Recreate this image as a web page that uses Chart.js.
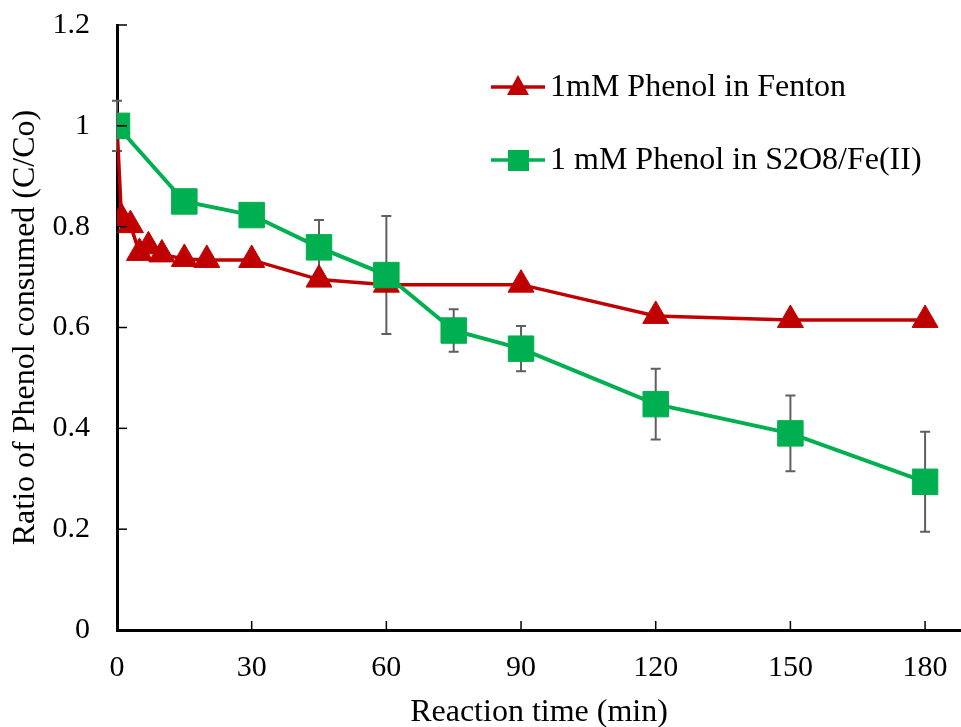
<!DOCTYPE html>
<html>
<head>
<meta charset="utf-8">
<script src="https://cdn.jsdelivr.net/npm/chart.js@4.4.1/dist/chart.umd.min.js"></script>
<style>
  html, body { margin: 0; padding: 0; background: #fff; }
  #wrap { width: 961px; height: 727px; }
</style>
</head>
<body>
<div id="wrap"><canvas id="chart" width="961" height="727"></canvas></div>
<script>
// --- data ---
const fentonTime = [0, 1, 3, 5, 7, 10, 15, 20, 30, 45, 60, 90, 120, 150, 180];
const fentonRatio = [1.0, 0.817, 0.803, 0.748, 0.761, 0.745, 0.736, 0.734, 0.734, 0.695, 0.685, 0.685, 0.623, 0.615, 0.615];

const persulfateTime = [0, 15, 30, 45, 60, 75, 90, 120, 150, 180];
const persulfateRatio = [1.0, 0.85, 0.823, 0.759, 0.704, 0.594, 0.558, 0.448, 0.39, 0.294];
const persulfateErr = [0.05, 0, 0, 0.054, 0.117, 0.042, 0.045, 0.07, 0.075, 0.099];

const xTickValues = [0, 30, 60, 90, 120, 150, 180];
const yTickValues = [0, 0.2, 0.4, 0.6, 0.8, 1, 1.2];
const yTickLabels = ['0', '0.2', '0.4', '0.6', '0.8', '1', '1.2'];

const seriesLabels = ['1mM Phenol in Fenton', '1 mM Phenol in S2O8/Fe(II)'];

const RED = '#C00000';
const GREEN = '#00B050';
const FONT = "'Liberation Serif', 'Times New Roman', serif";

// 内向きの目盛り線
const innerTicks = {
    id: 'innerTicks',
    afterDatasetsDraw(chart) {
        const { ctx, chartArea, scales } = chart;
        ctx.save();
        ctx.strokeStyle = '#000';
        ctx.lineWidth = 1.5;
        scales.x.ticks.forEach(t => {
            const px = scales.x.getPixelForValue(t.value);
            ctx.beginPath();
            ctx.moveTo(px, chartArea.bottom);
            ctx.lineTo(px, chartArea.bottom - 9);
            ctx.stroke();
        });
        scales.y.ticks.forEach(t => {
            const py = scales.y.getPixelForValue(t.value);
            ctx.beginPath();
            ctx.moveTo(chartArea.left, py);
            ctx.lineTo(chartArea.left + 10, py);
            ctx.stroke();
        });
        ctx.restore();
    }
};

// エラーバー (S2O8/Fe(II) のみ)
const errorBars = {
    id: 'errorBars',
    beforeDatasetsDraw(chart) {
        const { ctx, scales } = chart;
        ctx.save();
        ctx.strokeStyle = '#5f5f5f';
        ctx.lineWidth = 2;
        persulfateTime.forEach((t, i) => {
            const e = persulfateErr[i];
            if (!e) return;
            const px = scales.x.getPixelForValue(t);
            const top = scales.y.getPixelForValue(persulfateRatio[i] + e);
            const bot = scales.y.getPixelForValue(persulfateRatio[i] - e);
            ctx.beginPath();
            ctx.moveTo(px, top); ctx.lineTo(px, bot);
            ctx.moveTo(px - 5, top); ctx.lineTo(px + 5, top);
            ctx.moveTo(px - 5, bot); ctx.lineTo(px + 5, bot);
            ctx.stroke();
        });
        ctx.restore();
    }
};

// 凡例 (プロット領域の右上)
const insideLegend = {
    id: 'insideLegend',
    afterDraw(chart) {
        const { ctx } = chart;
        const rows = [
            { y: 87, color: RED, shape: 'tri' },
            { y: 160, color: GREEN, shape: 'sq' }
        ];
        ctx.save();
        rows.forEach((r, i) => {
            ctx.strokeStyle = r.color;
            ctx.lineWidth = 3.5;
            ctx.beginPath();
            ctx.moveTo(491, r.y);
            ctx.lineTo(545, r.y);
            ctx.stroke();
            ctx.fillStyle = r.color;
            ctx.beginPath();
            if (r.shape === 'tri') {
                ctx.moveTo(518, r.y - 12);
                ctx.lineTo(529, r.y + 8);
                ctx.lineTo(507, r.y + 8);
                ctx.closePath();
            } else {
                ctx.rect(508, r.y - 10, 21, 21);
            }
            ctx.fill();
            ctx.fillStyle = '#000';
            ctx.font = '32px ' + FONT;
            ctx.textBaseline = 'middle';
            ctx.textAlign = 'left';
            ctx.fillText(seriesLabels[i], 550, r.y + 1);
        });
        ctx.restore();
    }
};

new Chart(document.getElementById('chart'), {
    type: 'line',
    data: {
        datasets: [
            {
                label: seriesLabels[0],
                data: fentonTime.map((t, i) => ({ x: t, y: fentonRatio[i] })),
                borderColor: RED,
                backgroundColor: RED,
                borderWidth: 3.5,
                pointStyle: 'triangle',
                pointRadius: 15,
                pointBorderWidth: 1,
                tension: 0,
                order: 2
            },
            {
                label: seriesLabels[1],
                data: persulfateTime.map((t, i) => ({ x: t, y: persulfateRatio[i] })),
                borderColor: GREEN,
                backgroundColor: GREEN,
                borderWidth: 4,
                pointStyle: 'rect',
                pointRadius: 18,
                pointBorderWidth: 1,
                tension: 0,
                order: 1
            }
        ]
    },
    options: {
        responsive: false,
        animation: false,
        layout: { autoPadding: false, padding: { top: 25, right: 0, left: 0, bottom: 0 } },
        plugins: {
            legend: { display: false },
            tooltip: { enabled: false }
        },
        scales: {
            x: {
                type: 'linear',
                min: 0,
                max: 188,
                afterBuildTicks: axis => { axis.ticks = xTickValues.map(v => ({ value: v })); },
                afterFit: axis => {
                    axis.height = 97;
                    axis.paddingLeft = 0;
                    axis.paddingRight = 0;
                },
                grid: { display: false, drawTicks: false },
                border: { display: true, color: '#000', width: 3 },
                ticks: {
                    color: '#000',
                    padding: 20,
                    font: { family: FONT, size: 30 },
                    maxRotation: 0
                },
                title: {
                    display: true,
                    text: 'Reaction time (min)',
                    color: '#000',
                    font: { family: FONT, size: 32 },
                    padding: { top: 8, bottom: -5 }
                }
            },
            y: {
                min: 0,
                max: 1.2,
                afterBuildTicks: axis => { axis.ticks = yTickValues.map(v => ({ value: v })); },
                afterFit: axis => {
                    axis.width = 117;
                    axis.paddingTop = 0;
                    axis.paddingBottom = 0;
                },
                grid: { display: false, drawTicks: false },
                border: { display: true, color: '#000', width: 3 },
                ticks: {
                    color: '#000',
                    padding: 27,
                    font: { family: FONT, size: 30 },
                    callback: (v, i) => yTickLabels[i]
                },
                title: {
                    display: true,
                    text: 'Ratio of Phenol consumed (C/Co)',
                    color: '#000',
                    font: { family: FONT, size: 32 },
                    padding: { top: 6, bottom: 0 }
                }
            }
        }
    },
    plugins: [errorBars, innerTicks, insideLegend]
});
</script>
</body>
</html>
